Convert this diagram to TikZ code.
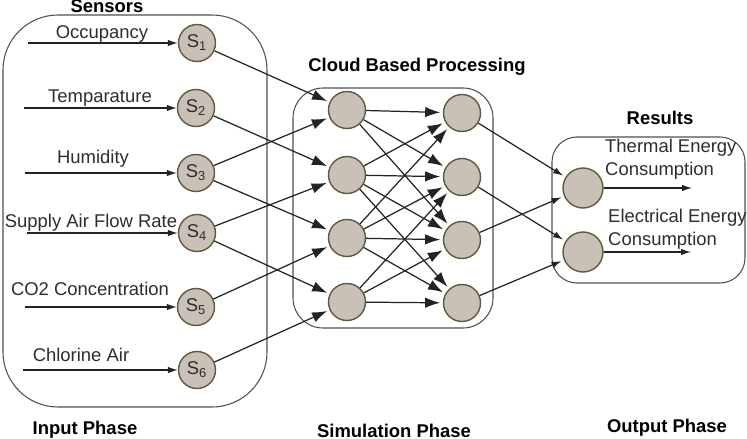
\documentclass[tikz,border=0pt]{standalone}
\usepackage{fontspec}
\setmainfont{Liberation Sans}
\usetikzlibrary{arrows.meta}
\definecolor{nodefill}{RGB}{201,193,183}
\definecolor{nodeline}{RGB}{95,90,62}
\definecolor{boxline}{RGB}{80,80,80}
\definecolor{wire}{RGB}{35,35,35}
\definecolor{ink}{RGB}{45,45,45}

\begin{document}
\begin{tikzpicture}[x=0.02cm,y=-0.02cm,font=\fontsize{10.5}{13}\selectfont,
   text=ink,
   neuron/.style={circle,draw=nodeline,line width=0.8pt,fill=nodefill,
                  minimum size=0.74cm,inner sep=0pt},
   phase/.style={draw=boxline,line width=0.6pt,rounded corners=#1},
   title/.style={font=\fontsize{10.5}{13}\selectfont\bfseries,text=black},
   feed/.style={-{Latex[length=2mm,width=1.3mm]},line width=0.7pt,draw=wire},
   link/.style={-{Latex[length=3mm,width=2.1mm]},line width=0.7pt,draw=wire,
                shorten >=1.5pt}]
  \useasboundingbox (0,0) rectangle (747,439);
  \clip (0,0) rectangle (747,439);

  % phase boxes
  \draw[phase=1.1cm] (3,15) rectangle (267,407);
  \draw[phase=0.6cm] (293,88) rectangle (493,328);
  \draw[phase=0.5cm] (552,137) rectangle (745,283);

  % titles
  \node[title] (tsens) at (107,6) {Sensors};
  \node[title] (tcloud) at (417,67) {Cloud Based Processing};
  \node[title] (tres) at (660,118) {Results};
  \node[title] (tin) at (85,430) {Input Phase};
  \node[title] (tsim) at (394,431) {Simulation Phase};
  \node[title] (tout) at (667,428) {Output Phase};

  % sensors
  \node[neuron] (s1) at (197,43) {S\textsubscript{1}};
  \node[neuron] (s2) at (196,108) {S\textsubscript{2}};
  \node[neuron] (s3) at (196,173) {S\textsubscript{3}};
  \node[neuron] (s4) at (197,233) {S\textsubscript{4}};
  \node[neuron] (s5) at (196,307) {S\textsubscript{5}};
  \node[neuron] (s6) at (197,370) {S\textsubscript{6}};

  \node (occ) at (102,34) {Occupancy};
  \node (tmp) at (100,98) {Temparature};
  \node (hum) at (93,159) {Humidity};
  \node (air) at (91,223) {Supply Air Flow Rate};
  \node (co2) at (90,289) {CO2 Concentration};
  \node (chl) at (81,355) {Chlorine Air};

  \coordinate (i1) at (28,43);
  \coordinate (i2) at (24,108);
  \coordinate (i3) at (25,173);
  \coordinate (i4) at (27,233);
  \coordinate (i5) at (25,307);
  \coordinate (i6) at (23,370);
  \foreach \k in {1,...,6}
    \draw[feed] (i\k) -- (s\k);

  % cloud layers
  \node[neuron] (h1) at (347,110) {};
  \node[neuron] (h2) at (347,175) {};
  \node[neuron] (h3) at (347,238) {};
  \node[neuron] (h4) at (347,302) {};
  \node[neuron] (g1) at (462,113) {};
  \node[neuron] (g2) at (462,177) {};
  \node[neuron] (g3) at (462,240) {};
  \node[neuron] (g4) at (462,303) {};

  \foreach \a/\b in {1/1,2/2,3/1,3/3,4/2,4/4,5/3,6/4}
    \draw[link] (s\a) -- (h\b);
  \foreach \a/\b in {1/1,1/2,1/3,2/1,2/2,2/3,2/4,3/1,3/2,3/3,3/4,4/2,4/3,4/4}
    \draw[link] (h\a) -- (g\b);

  % results
  \node[neuron,minimum size=0.8cm] (r1) at (583,188) {};
  \node[neuron,minimum size=0.8cm] (r2) at (583,252) {};
  \foreach \a/\b in {1/1,2/2,3/1,4/2}
    \draw[feed,shorten >=1.5pt] (g\a) -- (r\b);

  \coordinate (e1) at (692,188);
  \coordinate (e2) at (691,252);
  \draw[feed] (r1) -- (e1);
  \draw[feed] (r2) -- (e2);

  \node[align=left,anchor=west] (therm) at (599,159) {Thermal Energy\\Consumption};
  \node[align=left,anchor=west] (elec) at (602,229) {Electrical Energy\\Consumption};
\end{tikzpicture}
\end{document}
